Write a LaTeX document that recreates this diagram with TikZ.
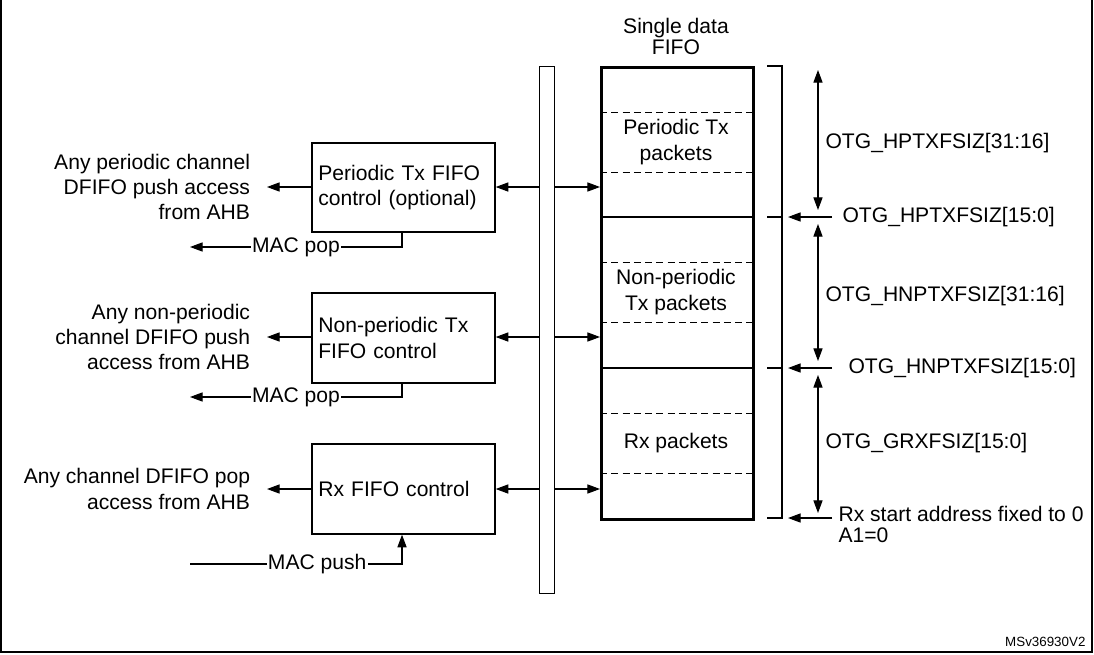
\documentclass[tikz,border=0pt]{standalone}
\usepackage{fontspec}
\setmainfont{Liberation Sans}
\usetikzlibrary{arrows.meta}
\tikzset{
	blk/.style={draw, very thick, minimum width=183*0.025cm, anchor=north west, align=left, inner sep=0, text width=170*0.025cm},
	lbl/.style={align=center, inner sep=1pt},
	sep line/.style={dash pattern=on 5pt off 3pt, semithick},
	tip/.style={-{Triangle[length=9pt,width=6.5pt]}}
}
\begin{document}
\begin{tikzpicture}[x=0.025cm, y=-0.025cm, font=\fontsize{15}{18}\selectfont, thick]
	\useasboundingbox (0,0) rectangle (1094,654);
	\draw (1,-2) rectangle (1092,652);
	% bus and FIFO
	\node[draw, minimum width=15*0.025cm, minimum height=527*0.025cm, anchor=north west, inner sep=0] (bus) at (539,66) {};
	\node[draw, line width=2pt, minimum width=152*0.025cm, minimum height=452*0.025cm, anchor=north west, inner sep=0] (fifo) at (600,66) {};
	\draw[line width=2pt] (600,217) -- (752,217);
	\draw[line width=2pt] (600,368) -- (752,368);
	\foreach \y in {112,172,262,322,413,473} \draw[sep line] (600,\y) -- (752,\y);
	\node[lbl] (title) at (676,36) {Single data\\[-3pt]FIFO};
	\node[lbl] (ptx) at (676,142) {Periodic Tx\\packets};
	\node[lbl] (nptx) at (676,292) {Non-periodic\\Tx packets};
	\node[lbl] (rx) at (676,443) {Rx packets};
	% control blocks
	\node[blk, minimum height=89*0.025cm] (pctl) at (311,142) {Periodic Tx FIFO\\control (optional)};
	\node[blk, minimum height=90*0.025cm] (nctl) at (311,292) {Non-periodic Tx\\FIFO control};
	\node[blk, minimum height=90*0.025cm] (rctl) at (311,443) {Rx FIFO control};
	\foreach \b/\y in {pctl/187,nctl/337,rctl/489} {
		\draw[tip] (bus.west |- 0,\y) -- (\b.east |- 0,\y);
		\draw[tip] (bus.east |- 0,\y) -- (fifo.west |- 0,\y);
		\draw[tip] (\b.west |- 0,\y) -- ++(-44,0);
	}
	\node[lbl, align=right, anchor=east] (pacc) at (252,187) {Any periodic channel\\DFIFO push access\\from AHB};
	\node[lbl, align=right, anchor=east] (nacc) at (252,337) {Any non-periodic\\channel DFIFO push\\access from AHB};
	\node[lbl, align=right, anchor=east] (racc) at (252,489) {Any channel DFIFO pop\\access from AHB};
	% MAC lines
	\draw[tip] (pctl.south -| 402,0) |- (190,247) node[pos=0.75, fill=white, inner sep=1pt] {MAC pop};
	\draw[tip] (nctl.south -| 402,0) |- (190,397) node[pos=0.75, fill=white, inner sep=1pt] {MAC pop};
	\draw[tip] (190,564) -| (rctl.south -| 402,0) node[pos=0.3, fill=white, inner sep=1pt] {MAC push};
	% address bracket
	\draw (767,66) -- (782,66) -- (782,518) -- (767,518);
	\foreach \y in {217,368} \draw (767,\y) -- (782,\y);
	\foreach \y/\t/\x in {217/OTG\_HPTXFSIZ[15:0]/842,368/OTG\_HNPTXFSIZ[15:0]/848} {
		\draw[tip] (832,\y) -- (788,\y);
		\node[anchor=west, inner sep=0] at (\x,\y) {\t};
	}
	\draw[tip] (832,518) -- (788,518);
	\node[anchor=west, inner sep=0] (rxs) at (838,514) {Rx start address fixed to 0};
	\node[anchor=west, inner sep=0] (a1) at (838,535) {A1=0};
	\draw[tip] (818,140) -- (818,70);
	\draw[tip] (818,140) -- (818,210);
	\draw[tip] (818,290) -- (818,224);
	\draw[tip] (818,290) -- (818,361);
	\draw[tip] (818,440) -- (818,375);
	\draw[tip] (818,440) -- (818,513);
	\node[anchor=west, inner sep=0, fill=white] at (825,143) {OTG\_HPTXFSIZ[31:16]};
	\node[anchor=west, inner sep=0, fill=white] at (825,296) {OTG\_HNPTXFSIZ[31:16]};
	\node[anchor=west, inner sep=0, fill=white] at (825,443) {OTG\_GRXFSIZ[15:0]};
	\node[anchor=south east, inner sep=0, font=\fontsize{9.5}{10}\selectfont] (ref) at (1086,647) {MSv36930V2};
\end{tikzpicture}
\end{document}
